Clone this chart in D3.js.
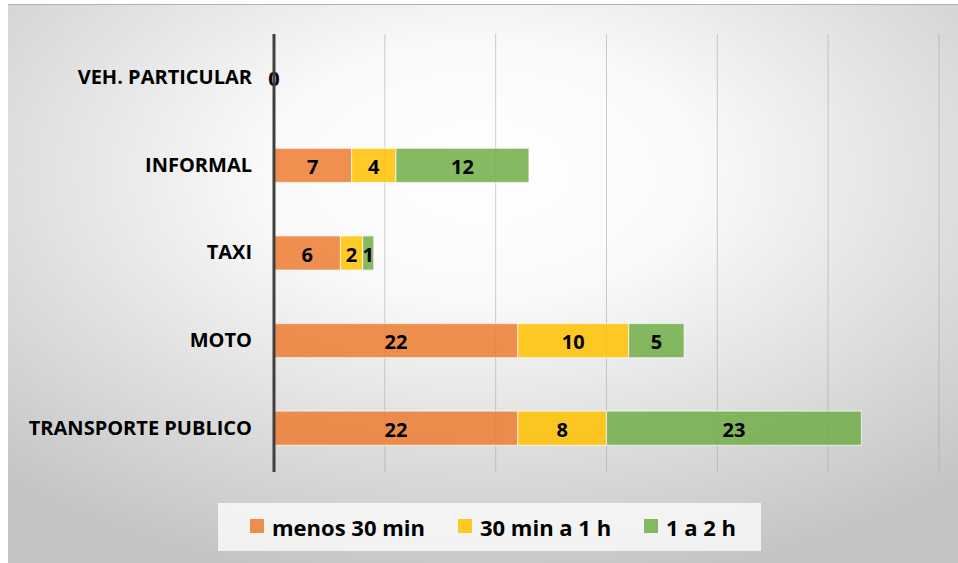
<!DOCTYPE html>
<html>
<head>
<meta charset="utf-8">
<script src="https://cdn.jsdelivr.net/npm/d3@7"></script>
<style>
  body { margin: 0; background: #fff; }
  text { font-family: "Open Sans", "Noto Sans", sans-serif; font-weight: 700; }
</style>
</head>
<body>
<svg id="chart" width="958" height="563"></svg>
<script>
const categories = ['VEH. PARTICULAR', 'INFORMAL', 'TAXI', 'MOTO', 'TRANSPORTE PUBLICO'];
const seriesNames = ['menos 30 min', '30 min a 1 h', '1 a 2 h'];
const menos30 = [0, 7, 6, 22, 22];
const media1h = [0, 4, 2, 10, 8];
const una2h = [0, 12, 1, 5, 23];
const gridTicks = [0, 10, 20, 30, 40, 50, 60];
const colors = ['#ED7D31', '#FFC000', '#70AD47'];

const svg = d3.select('#chart');
const W = 958, H = 563;

// background gradient
const defs = svg.append('defs');
const grad = defs.append('radialGradient')
  .attr('id', 'bg')
  .attr('cx', '0.5').attr('cy', '0.3').attr('r', '0.75');
grad.append('stop').attr('offset', '0%').attr('stop-color', '#ffffff');
grad.append('stop').attr('offset', '30%').attr('stop-color', '#fafafa');
grad.append('stop').attr('offset', '100%').attr('stop-color', '#c4c4c4');

svg.append('rect')
  .attr('x', 8).attr('y', 4)
  .attr('width', W - 8).attr('height', H - 4)
  .attr('fill', 'url(#bg)');
svg.append('line')
  .attr('x1', 8).attr('x2', W).attr('y1', 4.5).attr('y2', 4.5)
  .attr('stroke', '#b0b0b0');

const margin = { left: 274, right: 19, top: 34, bottom: 91 };
const x = d3.scaleLinear().domain([0, 60]).range([margin.left, W - margin.right]);
const y = d3.scaleBand().domain(categories)
  .range([margin.top, H - margin.bottom]).paddingInner(0.61).paddingOuter(0.305);

// gridlines
svg.append('g')
  .selectAll('line')
  .data(gridTicks.slice(1))
  .join('line')
  .attr('x1', d => x(d)).attr('x2', d => x(d))
  .attr('y1', margin.top).attr('y2', H - margin.bottom)
  .attr('stroke', '#a6a6a6').attr('stroke-opacity', 0.55);

const rows = categories.map((c, i) => ({ cat: c, vals: [menos30[i], media1h[i], una2h[i]] }));
const stackData = rows.map(r => ({ cat: r.cat, s0: r.vals[0], s1: r.vals[1], s2: r.vals[2] }));
const stack = d3.stack().keys(['s0', 's1', 's2'])(stackData);

const layers = svg.append('g').selectAll('g')
  .data(stack)
  .join('g')
  .attr('fill', (d, i) => colors[i]);

layers.selectAll('rect')
  .data(d => d.filter(p => p[1] - p[0] > 0))
  .join('rect')
  .attr('x', d => x(d[0]))
  .attr('y', d => y(d.data.cat))
  .attr('width', d => x(d[1]) - x(d[0]))
  .attr('height', y.bandwidth())
  .attr('fill-opacity', 0.85)
  .attr('stroke', '#ffffff').attr('stroke-opacity', 0.6).attr('stroke-width', 1.2);

// value labels
layers.selectAll('text')
  .data(d => d.filter(p => p[1] - p[0] > 0))
  .join('text')
  .attr('x', d => (x(d[0]) + x(d[1])) / 2)
  .attr('y', d => y(d.data.cat) + y.bandwidth() / 2 + 1)
  .attr('text-anchor', 'middle')
  .attr('dominant-baseline', 'central')
  .attr('font-size', 20)
  .attr('fill', '#000')
  .text(d => d[1] - d[0]);

// zero label for empty row
rows.filter(r => d3.sum(r.vals) === 0).forEach(r => {
  svg.append('text')
    .attr('x', x(0))
    .attr('y', y(r.cat) + y.bandwidth() / 2 + 1)
    .attr('text-anchor', 'middle')
    .attr('dominant-baseline', 'central')
    .attr('font-size', 20)
    .attr('fill', '#000')
    .text('0');
});

// axis
const yAxis = d3.axisLeft(y).tickSize(0).tickPadding(22);
const ag = svg.append('g').attr('transform', `translate(${margin.left},0)`).call(yAxis);
ag.select('.domain').remove();
ag.selectAll('text')
  .attr('font-size', 20)
  .attr('fill', '#000')
  .style('font-family', '"Open Sans", sans-serif')
  .style('font-weight', 700);
svg.append('line')
  .attr('x1', x(0)).attr('x2', x(0))
  .attr('y1', margin.top).attr('y2', H - margin.bottom)
  .attr('stroke', '#404040').attr('stroke-width', 3);

// legend
const lg = svg.append('g');
lg.append('rect')
  .attr('x', 218).attr('y', 503).attr('width', 543).attr('height', 48)
  .attr('fill', '#ffffff').attr('fill-opacity', 0.75);
const legendX = [250, 458, 644];
seriesNames.forEach((n, i) => {
  lg.append('rect')
    .attr('x', legendX[i]).attr('y', 519)
    .attr('width', 14).attr('height', 14)
    .attr('fill', colors[i]).attr('fill-opacity', 0.85);
  lg.append('text')
    .attr('x', legendX[i] + 22).attr('y', 527)
    .attr('dominant-baseline', 'central')
    .attr('font-size', 22)
    .attr('fill', '#000')
    .text(n);
});
</script>
</body>
</html>
